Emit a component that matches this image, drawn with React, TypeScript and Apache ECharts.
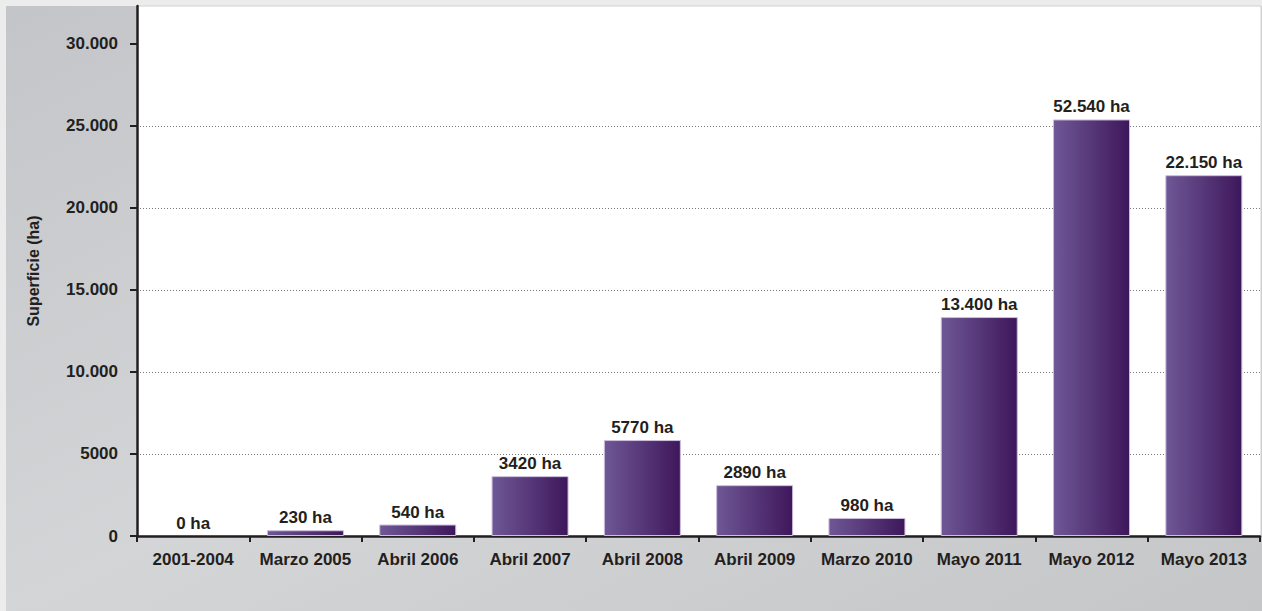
import React, { useEffect, useRef } from "react";
import * as echarts from "echarts";

const categories = [
  "2001-2004",
  "Marzo 2005",
  "Abril 2006",
  "Abril 2007",
  "Abril 2008",
  "Abril 2009",
  "Marzo 2010",
  "Mayo 2011",
  "Mayo 2012",
  "Mayo 2013",
];
// bar heights as drawn in the picture
const barValues = [0, 350, 700, 3650, 5850, 3100, 1100, 13350, 25400, 22000];
// printed labels above the bars
const barLabels = [
  "0 ha",
  "230 ha",
  "540 ha",
  "3420 ha",
  "5770 ha",
  "2890 ha",
  "980 ha",
  "13.400 ha",
  "52.540 ha",
  "22.150 ha",
];
const yTicks = [0, 5000, 10000, 15000, 20000, 25000, 30000];
const yMax = 32317;

const FONT = "'Liberation Sans', Arial, sans-serif";
const TXT = "#231f20";

function fmt(v: number): string {
  if (v >= 10000) {
    const s = String(Math.round(v));
    return s.slice(0, s.length - 3) + "." + s.slice(s.length - 3);
  }
  return String(v);
}

export default function App() {
  const ref = useRef<HTMLDivElement>(null);
  useEffect(() => {
    document.body.style.margin = "0";
    if (!ref.current) return;
    const chart = echarts.init(ref.current, null, { renderer: "svg" });
    const barGrad = new echarts.graphic.LinearGradient(0, 0, 1, 0, [
      { offset: 0, color: "#6f5796" },
      { offset: 1, color: "#3e175b" },
    ]);
    chart.setOption({
      animation: false,
      backgroundColor: "#ececec",
      graphic: [
        {
          type: "rect",
          z: -100,
          shape: { x: 6, y: 6, width: 1256, height: 605 },
          style: {
            fill: new echarts.graphic.LinearGradient(0, 0, 1, 1, [
              { offset: 0, color: "#c3c5c8" },
              { offset: 0.5, color: "#d4d5d7" },
              { offset: 1, color: "#c5c6c8" },
            ]),
          },
        },
        {
          type: "rect",
          z: -90,
          shape: { x: 137, y: 6, width: 1124, height: 530 },
          style: { fill: "#ffffff", stroke: "#d0d1d3", lineWidth: 1 },
        },
      ],
      grid: {
        left: 137,
        right: 2,
        top: 6,
        bottom: 75,
        containLabel: false,
      },
      xAxis: {
        type: "category",
        data: categories,
        boundaryGap: true,
        axisLine: { show: true, lineStyle: { color: TXT, width: 2.5 } },
        axisTick: {
          show: true,
          inside: false,
          length: 6,
          alignWithLabel: false,
          lineStyle: { color: TXT, width: 2 },
        },
        axisLabel: {
          interval: 0,
          margin: 15,
          color: TXT,
          fontFamily: FONT,
          fontWeight: "bold",
          fontSize: 17,
        },
        splitLine: { show: false },
      },
      yAxis: {
        type: "value",
        min: 0,
        max: yMax,
        interval: 5000,
        name: "Superficie (ha)",
        nameLocation: "middle",
        nameRotate: 90,
        nameGap: 96,
        nameTextStyle: {
          color: TXT,
          fontFamily: FONT,
          fontWeight: "bold",
          fontSize: 16,
        },
        axisLine: { show: true, lineStyle: { color: TXT, width: 2.5 } },
        axisTick: {
          show: true,
          length: 7,
          customValues: yTicks,
          lineStyle: { color: TXT, width: 2 },
        },
        axisLabel: {
          customValues: yTicks,
          margin: 19,
          color: TXT,
          fontFamily: FONT,
          fontWeight: "bold",
          fontSize: 17,
          formatter: (v: number) => fmt(v),
        },
        splitLine: {
          show: true,
          showMaxLine: false,
          showMinLine: false,
          lineStyle: { color: "#7a7a7a", type: [1, 2], width: 1 },
        },
      },
      series: [
        {
          type: "bar",
          barWidth: 77,
          data: barValues.map((v) => ({
            value: v,
            itemStyle: v === 0 ? { borderWidth: 0 } : undefined,
          })),
          itemStyle: {
            color: barGrad,
            borderColor: "#cbbfdc",
            borderWidth: 1,
          },
          label: {
            show: true,
            position: "top",
            distance: 4,
            color: TXT,
            fontFamily: FONT,
            fontWeight: "bold",
            fontSize: 17,
            formatter: (p: any) => barLabels[p.dataIndex],
          },
        },
      ],
    });
    return () => chart.dispose();
  }, []);
  return <div ref={ref} style={{ width: 1262, height: 611 }} />;
}
